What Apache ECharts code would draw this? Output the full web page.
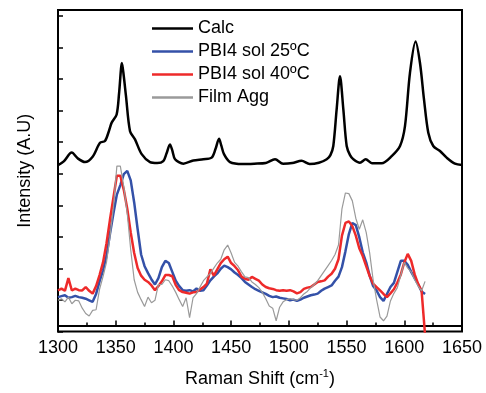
<!DOCTYPE html>
<html>
<head>
<meta charset="utf-8">
<script src="https://cdn.jsdelivr.net/npm/echarts@6/dist/echarts.min.js"></script>
<style>
  html, body { margin: 0; padding: 0; background: #fff; }
  #chart { width: 486px; height: 393px; }
</style>
</head>
<body>
<div id="chart"></div>
<script>
// calculated spectrum (offset upward)
const calcShift = [1300, 1305, 1311.9, 1317, 1323.4, 1330, 1336.4, 1340.7, 1344, 1346.5, 1350.8, 1353, 1355.4, 1357, 1358.9,
  1362.4, 1366.7, 1372.5, 1379.7, 1386, 1391.2, 1394, 1397, 1399, 1401.4, 1408.6, 1417.2, 1425.9, 1433.1, 1436.5,
  1439.5, 1441.5, 1443.8, 1449, 1460, 1470, 1480, 1488, 1495, 1503, 1511, 1518, 1526, 1532.8, 1536, 1538.5, 1541.4,
  1544.3, 1547.2, 1550.1, 1553, 1555.9, 1561.6, 1566.6, 1572, 1580.4, 1589.1, 1596.3, 1600.6, 1604.9, 1609.8,
  1613.6, 1617.1, 1620.8, 1625.1, 1630.9, 1636.7, 1643.9, 1650]
const calcIntensity = [5.08, 5.20, 5.48, 5.30, 5.18, 5.35, 5.79, 5.85, 6.15, 6.43, 6.69, 7.4, 8.32, 7.9, 7.27,
  6.16, 5.90, 5.43, 5.18, 5.15, 5.21, 5.45, 5.74, 5.55, 5.27, 5.13, 5.23, 5.27, 5.32, 5.6,
  5.92, 5.7, 5.43, 5.18, 5.12, 5.13, 5.15, 5.27, 5.13, 5.15, 5.22, 5.12, 5.16, 5.27, 5.4, 5.69, 6.85,
  7.90, 6.85, 5.69, 5.4, 5.27, 5.16, 5.27, 5.14, 5.14, 5.37, 5.69, 6.32, 8.0, 9.0,
  8.32, 7.16, 6.11, 5.69, 5.53, 5.32, 5.13, 5.09]

// measured spectra share one shift grid: 1300, 1303, ... 1618
const measShift = []
for (let s = 1300; s <= 1618; s += 3) measShift.push(s)

const sol25 = [0.90, 0.93, 0.96, 0.88, 0.90, 0.94, 0.90, 0.88, 0.85, 0.80,
  0.75, 1.00, 1.40, 1.75, 2.20, 2.90, 3.55, 4.15, 4.45, 4.80,
  4.90, 4.60, 3.90, 3.05, 2.25, 1.88, 1.66, 1.46, 1.30, 1.50,
  1.85, 2.05, 1.98, 1.70, 1.42, 1.25, 1.12, 1.10, 1.12, 1.08,
  1.17, 1.10, 1.12, 1.27, 1.43, 1.55, 1.65, 1.80, 1.90, 1.85,
  1.78, 1.68, 1.60, 1.50, 1.38, 1.30, 1.22, 1.15, 1.10, 1.05,
  1.00, 0.94, 0.90, 0.92, 0.88, 0.86, 0.84, 0.80, 0.82, 0.78,
  0.82, 0.88, 0.92, 0.96, 0.98, 1.01, 1.10, 1.17, 1.22, 1.27,
  1.42, 1.55, 1.85, 2.35, 2.90, 3.25, 3.18, 2.80, 2.32, 2.00,
  1.58, 1.25, 1.11, 0.90, 0.78, 1.00, 1.22, 1.35, 1.70, 2.05,
  2.05, 1.92, 1.70, 1.50, 1.30, 1.08, 1.00]

const sol40 = [1.11, 1.17, 1.10, 1.50, 1.11, 1.17, 1.12, 1.11, 1.22, 1.10,
  1.01, 1.25, 1.60, 2.00, 2.60, 3.35, 4.05, 4.75, 4.75, 4.30,
  3.70, 2.95, 2.30, 1.82, 1.58, 1.45, 1.38, 1.27, 1.12, 1.25,
  1.40, 1.60, 1.60, 1.56, 1.28, 1.12, 1.06, 1.04, 1.01, 1.05,
  1.06, 1.14, 1.22, 1.33, 1.78, 1.58, 1.78, 1.98, 2.10, 2.18,
  1.98, 1.88, 1.75, 1.55, 1.48, 1.45, 1.54, 1.48, 1.42, 1.30,
  1.22, 1.18, 1.16, 1.12, 1.10, 1.12, 1.10, 1.12, 1.08, 1.02,
  1.06, 1.16, 1.20, 1.22, 1.30, 1.38, 1.40, 1.43, 1.55, 1.64,
  1.80, 2.10, 2.85, 3.25, 3.30, 3.15, 2.85, 2.45, 2.20, 1.88,
  1.57, 1.33, 1.22, 1.11, 1.00, 0.90, 1.02, 1.15, 1.36, 1.62,
  2.00, 2.27, 2.05, 1.62, 1.32, 1.10, -0.30]

const filmAgg = [0.80, 0.85, 0.75, 0.90, 0.69, 0.80, 0.78, 0.55, 0.38, 0.30,
  0.48, 0.50, 1.15, 1.55, 2.00, 2.80, 3.75, 5.05, 5.05, 4.40,
  3.55, 2.40, 1.45, 1.05, 0.82, 0.60, 0.90, 0.72, 0.80, 1.30,
  1.30, 1.45, 1.42, 1.25, 1.05, 0.82, 0.60, 0.88, 0.25, 0.88,
  1.01, 1.22, 1.42, 1.54, 1.65, 1.82, 1.98, 2.10, 2.40, 2.55,
  2.30, 2.00, 1.88, 1.70, 1.54, 1.52, 1.38, 1.30, 1.20, 1.05,
  0.85, 0.62, 0.55, 0.15, 0.58, 0.75, 0.82, 0.85, 0.82, 0.80,
  0.88, 1.00, 1.08, 1.20, 1.30, 1.42, 1.58, 1.74, 1.90, 2.06,
  2.25, 2.55, 3.70, 4.20, 4.18, 3.95, 3.40, 3.05, 3.35, 2.95,
  2.30, 1.45, 0.82, 0.27, 0.15, 0.30, 0.78, 1.02, 1.20, 1.60,
  2.00, 1.82, 1.70, 1.45, 1.25, 1.10, 1.40]

const pair = (xs, ys) => ys.map((v, i) => [xs[i], v])

const font = 'Liberation Sans, Arial, sans-serif'
const chart = echarts.init(document.getElementById('chart'))

const option = {
  animation: false,
  textStyle: { fontFamily: font },
  grid: {
    left: 58, right: 24, top: 10, bottom: 60,
    show: true, borderColor: '#000', borderWidth: 2
  },
  legend: {
    orient: 'vertical',
    left: 152, top: 17, padding: 0,
    icon: 'rect',
    itemWidth: 41, itemHeight: 2.5, itemGap: 0,
    textStyle: { fontSize: 18, color: '#000', lineHeight: 23, fontFamily: font },
    data: ['Calc', 'PBI4 sol 25ºC', 'PBI4 sol 40ºC', 'Film Agg']
  },
  xAxis: {
    type: 'value',
    min: 1300, max: 1650, interval: 50,
    name: '{a|Raman Shift (cm}{s|-1}{a|)}',
    nameLocation: 'middle', nameGap: 37,
    nameTextStyle: {
      rich: {
        a: { fontSize: 18, color: '#000', fontFamily: font },
        s: { fontSize: 11, color: '#000', fontFamily: font, verticalAlign: 'top', padding: [0, 0, 10, 0] }
      }
    },
    axisLine: { lineStyle: { color: '#000', width: 2 } },
    axisTick: { inside: true, length: 5, lineStyle: { width: 1.5 } },
    minorTick: { show: true, splitNumber: 2, length: 3, lineStyle: { color: '#000', width: 1.5 } },
    axisLabel: { fontSize: 18, color: '#000', margin: 8, fontFamily: font, formatter: v => String(v) },
    splitLine: { show: false }
  },
  yAxis: {
    type: 'value',
    min: -0.19, max: 10, interval: 1,
    name: 'Intensity (A.U)',
    nameLocation: 'middle', nameGap: 24,
    nameTextStyle: { fontSize: 18, color: '#000', fontFamily: font },
    axisLine: { show: true, lineStyle: { color: '#000', width: 2 } },
    axisTick: { show: true, inside: true, length: 5, lineStyle: { width: 1.5 } },
    axisLabel: { show: false },
    splitLine: { show: false }
  },
  series: [
    {
      name: 'Calc', type: 'line', symbol: 'none', smooth: 0.3,
      lineStyle: { color: '#000', width: 2.5 }, itemStyle: { color: '#000' },
      data: pair(calcShift, calcIntensity)
    },
    {
      name: 'PBI4 sol 25ºC', type: 'line', symbol: 'none',
      lineStyle: { color: '#3451A8', width: 2.5 }, itemStyle: { color: '#3451A8' },
      data: pair(measShift, sol25)
    },
    {
      name: 'PBI4 sol 40ºC', type: 'line', symbol: 'none',
      lineStyle: { color: '#EE2A2A', width: 2.5 }, itemStyle: { color: '#EE2A2A' },
      data: pair(measShift, sol40)
    },
    {
      name: 'Film Agg', type: 'line', symbol: 'none',
      lineStyle: { color: '#9A9A9A', width: 1.2 }, itemStyle: { color: '#9A9A9A' },
      data: pair(measShift, filmAgg)
    }
  ]
}
chart.setOption(option)
</script>
</body>
</html>
